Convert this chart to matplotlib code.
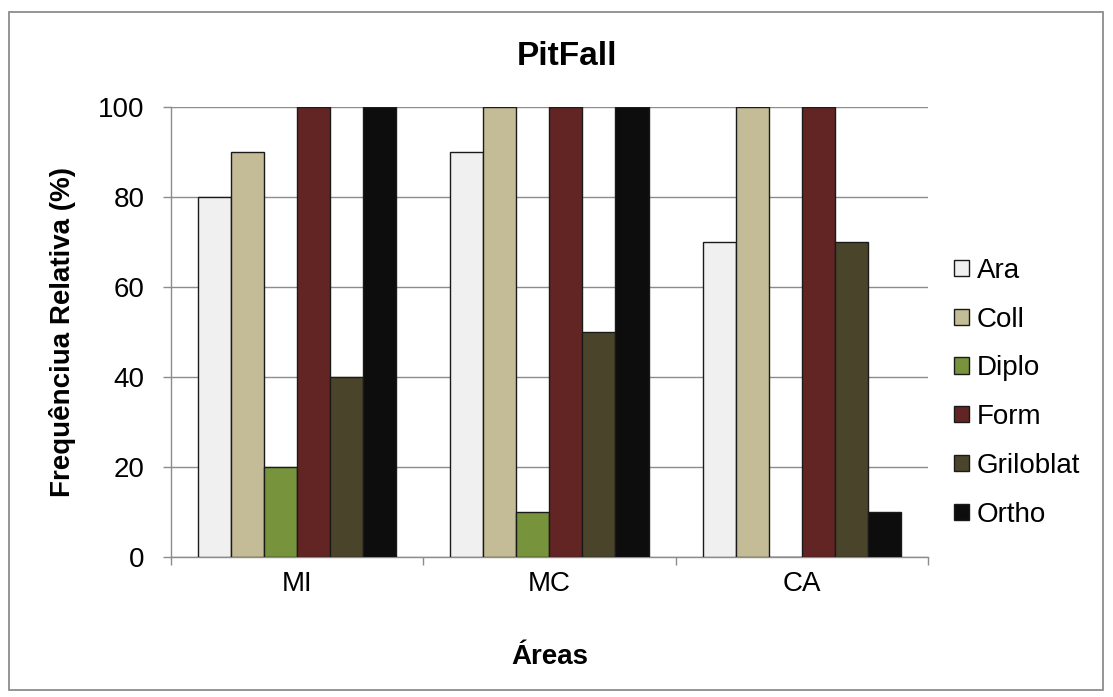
import numpy as np
import matplotlib
matplotlib.use("Agg")
import matplotlib.pyplot as plt
from matplotlib.patches import Rectangle

plt.rcParams["font.family"] = ["Liberation Sans", "DejaVu Sans"]

areas = ["MI", "MC", "CA"]
groups = ["Ara", "Coll", "Diplo", "Form", "Griloblat", "Ortho"]
ara = [80, 90, 70]
coll = [90, 100, 100]
diplo = [20, 10, 0]
form = [100, 100, 100]
griloblat = [40, 50, 70]
ortho = [100, 100, 10]
series = [ara, coll, diplo, form, griloblat, ortho]
colors = ["#f0f0f0", "#c4bc96", "#77933c", "#632523", "#4a452a", "#0d0d0d"]

fig = plt.figure(figsize=(11.13, 6.97), dpi=100)
# outer chart border
fig.patches.append(Rectangle((0.008, 0.01), 0.983, 0.973, transform=fig.transFigure,
                             fill=False, edgecolor="#8c8c8c", linewidth=1.3))
ax = fig.add_axes([0.1536, 0.2009, 0.680, 0.6456])

x = np.arange(len(areas))
w = 0.131
for i, (vals, c) in enumerate(zip(series, colors)):
    ax.bar(x + (i - 2.5) * w, vals, width=w, color=c, edgecolor="#1a1a1a",
           linewidth=1.0, label=groups[i], zorder=3)

ax.set_xlim(-0.5, 2.5)
ax.set_ylim(0, 100)
ax.set_yticks(range(0, 101, 20))
ax.yaxis.grid(True, color="#8c8c8c", linewidth=1.0, zorder=0)
ax.set_xticks(x)
ax.set_xticklabels(areas)
ax.set_xticks([-0.5, 0.5, 1.5, 2.5], minor=True)
ax.tick_params(axis="x", which="major", length=0, pad=10, labelsize=20)
ax.tick_params(axis="x", which="minor", length=6, color="#8c8c8c", width=1.0)
ax.tick_params(axis="y", length=6, color="#8c8c8c", width=1.0, labelsize=20, pad=13)
for s in ["top", "right"]:
    ax.spines[s].set_visible(False)
for s in ["left", "bottom"]:
    ax.spines[s].set_color("#8c8c8c")
    ax.spines[s].set_linewidth(1.0)

ax.set_title("PitFall", fontsize=24, fontweight="bold", pad=30, x=0.523)
ax.set_xlabel("Áreas", fontsize=20, fontweight="bold", labelpad=34)
ax.set_ylabel("Frequênciua Relativa (%)", fontsize=20, fontweight="bold", labelpad=16)

ax.legend(loc="center left", bbox_to_anchor=(1.035, 0.365), frameon=False, fontsize=20,
          handlelength=0.52, handleheight=0.52, handletextpad=0.3, labelspacing=0.82,
          borderpad=0, borderaxespad=0)

fig.savefig("out.png", dpi=100)
